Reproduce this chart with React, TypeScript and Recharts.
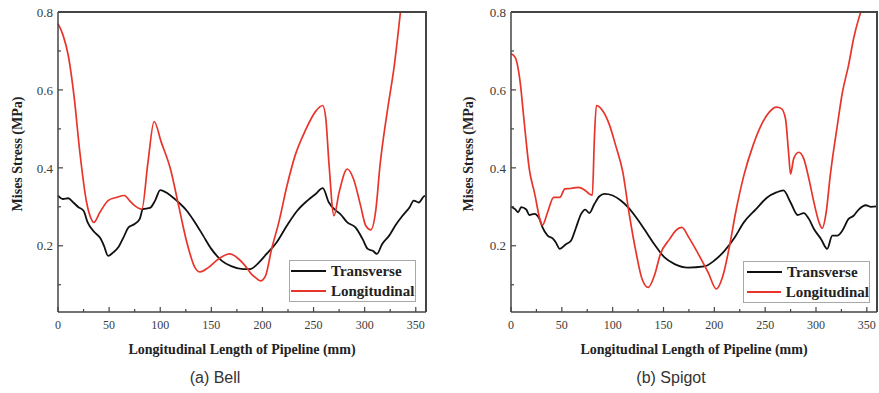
import React from 'react';
import { LineChart, Line, XAxis, YAxis, ReferenceLine } from 'recharts';

// x positions (mm) and Mises stress (MPa)
const bellLongX = [0, 5, 10, 16, 21, 28, 32, 35, 41, 49, 57, 65, 70, 75, 82, 88, 94, 101, 110, 118, 126, 134, 139, 147, 157, 168, 175, 183, 189, 193, 198, 203, 209, 216, 224, 232, 242, 252, 259, 262, 265, 270, 275, 283, 289, 296, 301, 306, 311, 315, 322, 329, 335];
const bellLongY = [0.77, 0.74, 0.689, 0.577, 0.449, 0.311, 0.272, 0.26, 0.286, 0.316, 0.324, 0.329, 0.316, 0.303, 0.294, 0.414, 0.519, 0.466, 0.397, 0.303, 0.209, 0.144, 0.133, 0.144, 0.166, 0.179, 0.17, 0.149, 0.128, 0.119, 0.11, 0.123, 0.192, 0.26, 0.354, 0.432, 0.496, 0.545, 0.56, 0.526, 0.414, 0.277, 0.337, 0.397, 0.372, 0.303, 0.252, 0.241, 0.294, 0.406, 0.543, 0.663, 0.8];

const bellTransX = [0, 5, 10, 15, 20, 25, 29, 36, 41, 45, 49, 54, 59, 64, 69, 75, 80, 83, 90, 95, 100, 108, 116, 126, 134, 142, 150, 160, 170, 181, 188, 195, 204, 214, 224, 234, 244, 252, 259, 265, 272, 276, 283, 291, 298, 303, 308, 312, 317, 324, 330, 337, 344, 348, 353, 358, 360];
const bellTransY = [0.329, 0.32, 0.322, 0.311, 0.299, 0.29, 0.26, 0.234, 0.221, 0.2, 0.174, 0.183, 0.196, 0.221, 0.247, 0.256, 0.269, 0.294, 0.297, 0.316, 0.343, 0.333, 0.316, 0.29, 0.26, 0.226, 0.192, 0.162, 0.147, 0.14, 0.14, 0.153, 0.179, 0.209, 0.252, 0.29, 0.316, 0.333, 0.348, 0.311, 0.29, 0.282, 0.26, 0.247, 0.217, 0.192, 0.187, 0.179, 0.204, 0.226, 0.252, 0.277, 0.299, 0.316, 0.311, 0.327, 0.329];

const spigotLongX = [0, 4, 9, 13, 18, 23, 31, 36, 42, 48, 53, 59, 66, 72, 77, 80, 82, 84, 90, 97, 103, 110, 116, 123, 129, 135, 141, 147, 156, 162, 168, 175, 184, 194, 202, 208, 215, 221, 229, 238, 246, 254, 261, 266, 270, 273, 275, 278, 283, 288, 293, 298, 303, 306, 310, 314, 321, 326, 332, 337, 342, 344];
const spigotLongY = [0.693, 0.684, 0.62, 0.517, 0.397, 0.337, 0.253, 0.286, 0.324, 0.324, 0.346, 0.347, 0.35, 0.344, 0.333, 0.33, 0.474, 0.56, 0.547, 0.509, 0.457, 0.389, 0.286, 0.183, 0.114, 0.093, 0.123, 0.179, 0.217, 0.239, 0.247, 0.221, 0.18, 0.131, 0.089, 0.119, 0.2, 0.286, 0.38, 0.457, 0.509, 0.543, 0.556, 0.552, 0.526, 0.44, 0.384, 0.423, 0.44, 0.423, 0.372, 0.311, 0.26, 0.245, 0.286, 0.38, 0.509, 0.594, 0.663, 0.732, 0.783, 0.8];

const spigotTransX = [0, 4, 7, 10, 15, 18, 23, 28, 31, 36, 41, 44, 48, 54, 59, 64, 69, 73, 77, 82, 87, 92, 100, 108, 115, 123, 131, 141, 151, 161, 174, 190, 200, 210, 220, 229, 241, 252, 261, 268, 275, 282, 288, 293, 298, 305, 311, 316, 321, 326, 332, 337, 342, 349, 354, 360];
const spigotTransY = [0.301, 0.294, 0.286, 0.299, 0.293, 0.279, 0.282, 0.269, 0.247, 0.226, 0.219, 0.209, 0.192, 0.204, 0.213, 0.247, 0.282, 0.293, 0.284, 0.307, 0.327, 0.333, 0.329, 0.316, 0.299, 0.273, 0.243, 0.204, 0.17, 0.153, 0.144, 0.147, 0.162, 0.187, 0.221, 0.26, 0.294, 0.324, 0.337, 0.342, 0.311, 0.279, 0.284, 0.269, 0.243, 0.217, 0.192, 0.226, 0.226, 0.239, 0.269, 0.277, 0.293, 0.304, 0.3, 0.301];

const xTicks = [0, 25, 50, 75, 100, 125, 150, 175, 200, 225, 250, 275, 300, 325, 350];
const yTicks = [0.1, 0.2, 0.3, 0.4, 0.5, 0.6, 0.7, 0.8];
const seriesNames = ['Transverse', 'Longitudinal'];
const X_MAX = 360;
const Y_MIN = 0.03;
const Y_MAX = 0.8;

const TRANS_COLOR = '#111111';
const LONG_COLOR = '#e8352b';
const AXIS_COLOR = '#444444';
const SERIF = 'Liberation Serif, serif';

const CHART_H = 393;
const M_TOP = 12;
const M_BOTTOM = 51;
const X_AXIS_H = 30;

const zip = (xs: number[], ys: number[]) => xs.map((x, i) => ({ x, y: ys[i] }));

const XTick = (props: any) => {
  const { x, y, payload } = props;
  const major = payload.value % 50 === 0;
  const base = y - 8;
  return (
    <g>
      <line x1={x} x2={x} y1={base} y2={base - (major ? 5 : 3)} stroke={AXIS_COLOR} strokeWidth={1.2} />
      {major && (
        <text x={x} y={y} dy="0.71em" textAnchor="middle" style={{ fontSize: 12, fontFamily: SERIF }} fill="#3a3a3a">
          {payload.value}
        </text>
      )}
    </g>
  );
};

const YTick = (props: any) => {
  const { x, y, payload } = props;
  const major = Math.round(payload.value * 10) % 2 === 0;
  const base = x + 5;
  return (
    <g>
      <line x1={base} x2={base + (major ? 5 : 3)} y1={y} y2={y} stroke={AXIS_COLOR} strokeWidth={1.2} />
      {major && (
        <text x={x} y={y} dy="0.36em" textAnchor="end" style={{ fontSize: 13, fontFamily: SERIF }} fill="#3a3a3a">
          {payload.value}
        </text>
      )}
    </g>
  );
};

const yLabel = (dx: number) => (props: any) => {
  const vb = props.viewBox;
  const cx = vb.x + dx;
  const cy = vb.y + vb.height / 2 - 8;
  return (
    <text x={cx} y={cy} transform={`rotate(-90 ${cx} ${cy})`} textAnchor="middle" dominantBaseline="central"
      style={{ fontSize: 14, fontWeight: 'bold', fontFamily: SERIF }} fill="#222">
      Mises Stress (MPa)
    </text>
  );
};

const xLabel = (props: any) => {
  const vb = props.viewBox;
  return (
    <text x={vb.x + vb.width / 2} y={vb.y + 42} textAnchor="middle"
      style={{ fontSize: 14, fontWeight: 'bold', fontFamily: SERIF }} fill="#222">
      Longitudinal Length of Pipeline (mm)
    </text>
  );
};

const LegendBox = ({ left, top, pad }: { left: number; top: number; pad: number }) => (
  <div style={{ position: 'absolute', left, top, width: 127, height: 42, border: '1px solid #a8a8a8', background: '#fff', boxSizing: 'border-box', fontFamily: SERIF, fontWeight: 'bold', fontSize: 15, color: '#222', zIndex: 2 }}>
    {seriesNames.map((name, i) => (
      <div key={name} style={{ display: 'flex', alignItems: 'center', height: 20, paddingLeft: pad }}>
        <svg width={35} height={4} style={{ marginRight: 5 }}>
          <line x1={0} x2={35} y1={2} y2={2} stroke={i === 0 ? TRANS_COLOR : LONG_COLOR} strokeWidth={2} />
        </svg>
        <span>{name}</span>
      </div>
    ))}
  </div>
);

interface PanelProps {
  left: number;
  width: number;
  yWidth: number;
  marginRight: number;
  labelDx: number;
  legendLeft: number;
  legendTop: number;
  legendPad: number;
  trans: { x: number; y: number }[];
  long: { x: number; y: number }[];
}

const Panel = (p: PanelProps) => (
  <div style={{ position: 'absolute', left: p.left, top: 0, width: p.width, height: CHART_H }}>
    <LineChart width={p.width} height={CHART_H} margin={{ top: M_TOP, right: p.marginRight, left: 0, bottom: M_BOTTOM }}>
      <XAxis type="number" dataKey="x" domain={[0, X_MAX]} ticks={xTicks} interval={0}
        height={X_AXIS_H} tickSize={0} tickMargin={8} tickLine={false} tick={<XTick />}
        axisLine={{ stroke: AXIS_COLOR, strokeWidth: 1.5 }} label={{ content: xLabel }} />
      <YAxis type="number" domain={[Y_MIN, Y_MAX]} ticks={yTicks} interval={0} allowDataOverflow width={p.yWidth}
        tickSize={0} tickMargin={5} tickLine={false} tick={<YTick />}
        axisLine={{ stroke: AXIS_COLOR, strokeWidth: 1.5 }} label={{ content: yLabel(p.labelDx) }} />
      <ReferenceLine y={Y_MAX} stroke={AXIS_COLOR} strokeWidth={1.6} />
      <ReferenceLine x={X_MAX} stroke={AXIS_COLOR} strokeWidth={1.6} />
      <Line data={p.trans} dataKey="y" name={seriesNames[0]} type="monotone" stroke={TRANS_COLOR}
        strokeWidth={1.8} dot={false} isAnimationActive={false} />
      <Line data={p.long} dataKey="y" name={seriesNames[1]} type="monotone" stroke={LONG_COLOR}
        strokeWidth={1.7} dot={false} isAnimationActive={false} />
    </LineChart>
    {/* top and right edges of the plot frame */}
    <div style={{
      position: 'absolute',
      left: p.yWidth,
      top: M_TOP - 1,
      width: p.width - p.yWidth - p.marginRight + 1,
      height: CHART_H - M_TOP - M_BOTTOM - X_AXIS_H + 1,
      borderTop: '2px solid #444444',
      borderRight: '2px solid #444444',
      boxSizing: 'border-box',
      zIndex: 1,
    }} />
    <LegendBox left={p.legendLeft} top={p.legendTop} pad={p.legendPad} />
  </div>
);

const captionStyle: React.CSSProperties = {
  position: 'absolute',
  top: 369,
  fontFamily: 'Liberation Sans, Arial, sans-serif',
  fontSize: 16,
  color: '#333',
  transform: 'translateX(-50%)',
  whiteSpace: 'nowrap',
};

export default function App() {
  return (
    <div style={{ position: 'absolute', left: 0, top: 0, width: 879, height: 393, background: '#fff' }}>
      <Panel left={0} width={440} yWidth={58} marginRight={14} labelDx={17}
        legendLeft={289} legendTop={260} legendPad={1}
        trans={zip(bellTransX, bellTransY)} long={zip(bellLongX, bellLongY)} />
      <Panel left={440} width={439} yWidth={71} marginRight={2} labelDx={28}
        legendLeft={303} legendTop={261} legendPad={3}
        trans={zip(spigotTransX, spigotTransY)} long={zip(spigotLongX, spigotLongY)} />
      <div style={{ ...captionStyle, left: 215 }}>(a) Bell</div>
      <div style={{ ...captionStyle, left: 671 }}>(b) Spigot</div>
    </div>
  );
}
